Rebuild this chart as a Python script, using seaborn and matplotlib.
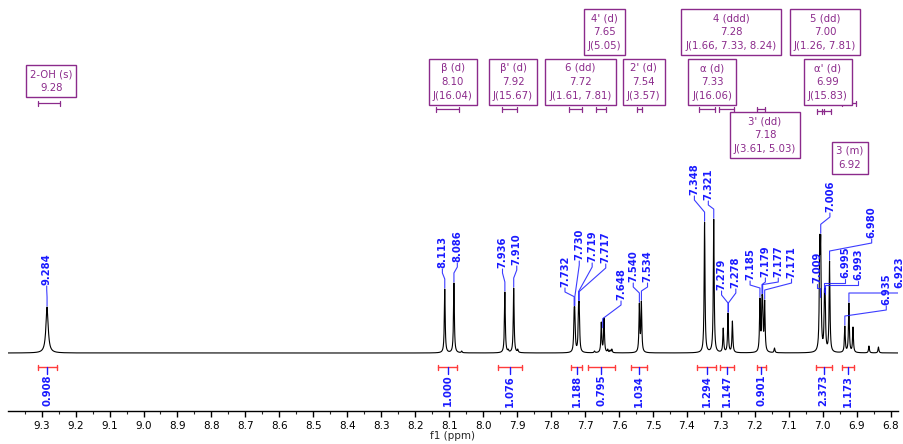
import numpy as np
import matplotlib
matplotlib.use('Agg')
import matplotlib.pyplot as plt
import seaborn as sns

# lines: shift (ppm) and apparent height above baseline
line_ppm = [9.284, 8.113, 8.086, 8.063, 7.936, 7.926, 7.910, 7.898,
            7.732, 7.730, 7.719, 7.717, 7.672, 7.652, 7.644, 7.633, 7.626, 7.621,
            7.540, 7.534, 7.348, 7.321, 7.293, 7.279, 7.266,
            7.185, 7.179, 7.177, 7.171, 7.142,
            7.009, 7.006, 6.995, 6.993, 6.980, 6.935, 6.923, 6.911, 6.864, 6.836]
line_height = [46, 64, 70, 2, 61, 4, 65, 4,
               45, 45, 50, 50, 2, 31, 35, 4, 3, 4,
               50, 52, 131, 134, 25, 40, 32,
               55, 57, 57, 53, 5,
               118, 118, 63, 63, 92, 27, 50, 26, 7, 6]
broad_lines = [9.284]

# peak picking labels
peak_labels = [9.284, 8.113, 8.086, 7.936, 7.910, 7.732, 7.730, 7.719, 7.717, 7.648,
               7.540, 7.534, 7.348, 7.321, 7.279, 7.278, 7.185, 7.179, 7.177, 7.171,
               7.009, 7.006, 6.995, 6.993, 6.980, 6.935, 6.923]

# multiplet analysis
mult_names = ["2-OH (s)", "β (d)", "β' (d)", "6 (dd)", "4' (d)", "2' (d)",
              "4 (ddd)", "5 (dd)", "α (d)", "α' (d)", "3' (dd)", "3 (m)"]
mult_shift = ["9.28", "8.10", "7.92", "7.72", "7.65", "7.54",
              "7.28", "7.00", "7.33", "6.99", "7.18", "6.92"]
mult_J = ["", "J(16.04)", "J(15.67)", "J(1.61, 7.81)", "J(5.05)", "J(3.57)",
          "J(1.66, 7.33, 8.24)", "J(1.26, 7.81)", "J(16.06)", "J(15.83)", "J(3.61, 5.03)", ""]
mult_from = [9.312, 8.139, 7.945, 7.746, 7.669, 7.548, 7.305, 7.002, 7.364, 7.016, 7.195, 6.944]
mult_to = [9.246, 8.070, 7.901, 7.710, 7.639, 7.533, 7.261, 6.977, 7.317, 6.997, 7.170, 6.903]

# integrals
int_from = [9.312, 8.132, 7.955, 7.740, 7.692, 7.566, 7.369, 7.303, 7.195, 7.021, 6.944]
int_to = [9.256, 8.076, 7.886, 7.710, 7.612, 7.517, 7.315, 7.261, 7.168, 6.974, 6.907]
int_values = ["0.908", "1.000", "1.076", "1.188", "0.795", "1.034",
              "1.294", "1.147", "0.901", "2.373", "1.173"]

# layout (label x in ppm, label bottom in px above baseline)
label_x = [9.285, 8.120, 8.076, 7.943, 7.901, 7.759, 7.717, 7.679, 7.639, 7.594,
           7.558, 7.516, 7.378, 7.337, 7.298, 7.256, 7.214, 7.169, 7.131, 7.092,
           7.016, 6.979, 6.934, 6.895, 6.856, 6.813, 6.773]
label_y = [68, 85, 91, 85, 88, 66, 93, 91, 90, 53,
           71, 71, 158, 153, 63, 65, 73, 76, 76, 75,
           70, 141, 75, 73, 115, 48, 65]
box_x = [9.272, 8.090, 7.912, 7.714, 7.643, 7.527, 7.270, 6.993, 7.326, 6.985, 7.170, 6.920]
box_top = [288, 294.3, 294.3, 294.3, 343.7, 294.3, 343.7, 343.7, 293.7, 293.7, 240.7, 211.3]
bracket_y = [249.7, 244, 244, 244, 244, 244, 243.7, 242, 243.7, 242, 243.7, 249.7]

BLUE = '#1a1aff'
RED = '#ff3b3b'
PURPLE = '#8b2a8b'

# build spectrum as sum of lorentzians, heights solved so apparent tops match
ppm = np.linspace(9.399, 6.7785, 30000)
pos = np.array(line_ppm)
width = np.array([0.008 if p in broad_lines else 0.003 for p in line_ppm])


def lor(x, c, w):
    return 1.0 / (1.0 + ((x - c) / (w / 2)) ** 2)


A = lor(pos[:, None], pos[None, :], width[None, :])
h = np.clip(np.linalg.solve(A, np.array(line_height, float)), 0, None)
spec = (h[None, :] * lor(ppm[:, None], pos[None, :], width[None, :])).sum(axis=1)

sns.set_style('white')
plt.rcParams['font.family'] = ['DejaVu Sans']

fig = plt.figure(figsize=(9.04, 4.44), dpi=100)
ax = fig.add_axes([8 / 904, 33.3 / 444, 890 / 904, 410.7 / 444])
sns.lineplot(x=ppm, y=spec, ax=ax, color='black', linewidth=0.8, estimator=None)
ax.set_xlim(9.399, 6.7785)
ax.set_ylim(-57.7, 353)

# peak labels with leader lines
for p, lx, lb in zip(peak_labels, label_x, label_y):
    top = spec[np.abs(ppm - p) < 0.003].max()
    y0 = min(top + 1, lb - 14)
    ax.plot([p, p, lx, lx], [y0, y0 + 9, lb - 5, lb - 1], color=BLUE, lw=0.8, alpha=0.85)
    ax.text(lx, lb, f"{p:.3f}", rotation=90, ha='center', va='bottom',
            color=BLUE, fontsize=7.2, fontweight='bold')

# multiplet boxes and brackets
pad = 0.4
pad_px = pad * 7.3 * 100 / 72
for i in range(len(mult_names)):
    lines = [mult_names[i], mult_shift[i]]
    if mult_J[i]:
        lines.append(mult_J[i])
    ax.text(box_x[i], box_top[i] - pad_px, "\n".join(lines), ha='center', va='top',
            multialignment='center', color=PURPLE, fontsize=7.3, linespacing=1.5,
            bbox=dict(boxstyle=f'square,pad={pad}', fc='white', ec=PURPLE, lw=1))
    a, b, y = mult_from[i], mult_to[i], bracket_y[i]
    ax.plot([a, b], [y, y], color=PURPLE, lw=0.9)
    ax.plot([a, a], [y - 2.5, y + 2.5], color=PURPLE, lw=0.9)
    ax.plot([b, b], [y - 2.5, y + 2.5], color=PURPLE, lw=0.9)

# integrals
yi = -14.3
for a, b, v in zip(int_from, int_to, int_values):
    c = (a + b) / 2
    ax.plot([a, b], [yi, yi], color=RED, lw=1)
    ax.plot([a, a], [yi - 2.3, yi + 2.3], color=RED, lw=1)
    ax.plot([b, b], [yi - 2.3, yi + 2.3], color=RED, lw=1)
    ax.plot([c, c], [yi, yi - 6.5], color=BLUE, lw=1)
    ax.text(c, yi - 7.5, v, rotation=90, ha='center', va='top',
            color=BLUE, fontsize=7.2, fontweight='bold')

# axis styling
for s in ['left', 'right', 'top']:
    ax.spines[s].set_visible(False)
ax.spines['bottom'].set_color('black')
ax.spines['bottom'].set_linewidth(1)
ax.set_yticks([])
ax.set_xticks(np.arange(6.8, 9.31, 0.1))
ax.set_xticks(np.arange(6.8, 9.36, 0.05), minor=True)
ax.set_xticklabels([f"{t:.1f}" for t in np.arange(6.8, 9.31, 0.1)])
ax.tick_params(axis='x', which='major', direction='out', length=4.5, width=1,
               labelsize=7.5, pad=3, bottom=True, colors='black')
ax.tick_params(axis='x', which='minor', direction='out', length=2.5, width=0.8, bottom=True)
ax.set_xlabel('f1 (ppm)', fontsize=7.5, labelpad=0)
ax.set_ylabel('')

fig.savefig('out.png', dpi=100)
